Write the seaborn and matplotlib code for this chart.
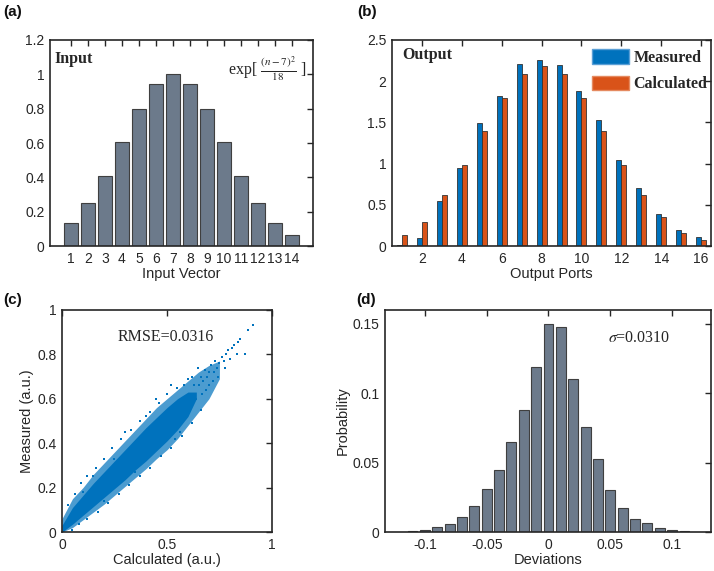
import numpy as np
import pandas as pd
import matplotlib
matplotlib.use("Agg")
import matplotlib.pyplot as plt
import seaborn as sns
from matplotlib.ticker import FuncFormatter
from matplotlib.patches import Patch

# (a) input vector
input_n = list(range(1, 15))
input_val = [0.135, 0.249, 0.411, 0.607, 0.801, 0.946, 1.0, 0.946, 0.801, 0.607, 0.411, 0.249, 0.135, 0.066]

# (b) output ports
ports = list(range(1, 17))
measured = [0.016, 0.097, 0.551, 0.948, 1.487, 1.823, 2.204, 2.253, 2.192, 1.880, 1.527, 1.050, 0.700, 0.393, 0.200, 0.113]
calculated = [0.138, 0.296, 0.624, 0.980, 1.394, 1.795, 2.087, 2.190, 2.087, 1.795, 1.394, 0.980, 0.624, 0.357, 0.158, 0.069]

# (c) scatter cloud, read as envelopes plus the sparse points round its edges
band_x = [0.0, 0.05, 0.1, 0.15, 0.2, 0.25, 0.3, 0.35, 0.4, 0.45, 0.5, 0.55, 0.6, 0.65, 0.7, 0.75]
outer_lo = [0.0, 0.02, 0.055, 0.09, 0.125, 0.165, 0.205, 0.245, 0.285, 0.33, 0.37, 0.42, 0.48, 0.54, 0.60, 0.69]
outer_hi = [0.06, 0.15, 0.20, 0.26, 0.31, 0.36, 0.41, 0.46, 0.51, 0.56, 0.60, 0.64, 0.68, 0.72, 0.75, 0.77]
core_x = [0.0, 0.05, 0.1, 0.15, 0.2, 0.25, 0.3, 0.35, 0.4, 0.45, 0.5, 0.55, 0.6, 0.64]
core_lo = [0.0, 0.035, 0.075, 0.115, 0.155, 0.195, 0.235, 0.28, 0.32, 0.365, 0.41, 0.46, 0.52, 0.60]
core_hi = [0.03, 0.11, 0.165, 0.22, 0.27, 0.32, 0.37, 0.42, 0.47, 0.515, 0.56, 0.60, 0.63, 0.63]
tail_calc = [0.91, 0.887, 0.871, 0.848, 0.84, 0.832, 0.82, 0.81, 0.80, 0.79, 0.78, 0.775, 0.77, 0.76,
             0.75, 0.745, 0.74, 0.73, 0.725, 0.72, 0.71, 0.70, 0.70, 0.69, 0.685, 0.68, 0.67, 0.665,
             0.66, 0.655, 0.65, 0.64, 0.63, 0.62, 0.61, 0.60, 0.58, 0.56, 0.54, 0.52, 0.50, 0.45,
             0.40, 0.35, 0.30, 0.25, 0.20, 0.15, 0.10,
             0.03, 0.06, 0.09, 0.12, 0.16, 0.20, 0.24, 0.28, 0.33, 0.37, 0.42, 0.46, 0.50, 0.55,
             0.05, 0.08, 0.12, 0.17, 0.22, 0.27, 0.32, 0.37, 0.42, 0.47, 0.52, 0.57, 0.62, 0.66]
tail_meas = [0.93, 0.91, 0.80, 0.87, 0.855, 0.80, 0.84, 0.83, 0.78, 0.82, 0.80, 0.74, 0.77, 0.79,
             0.76, 0.70, 0.74, 0.77, 0.72, 0.68, 0.75, 0.66, 0.72, 0.70, 0.64, 0.73, 0.68, 0.62,
             0.70, 0.66, 0.74, 0.60, 0.66, 0.70, 0.57, 0.69, 0.66, 0.45, 0.42, 0.66, 0.42, 0.60,
             0.52, 0.27, 0.45, 0.33, 0.14, 0.25, 0.18,
             0.12, 0.17, 0.22, 0.25, 0.29, 0.33, 0.38, 0.42, 0.46, 0.50, 0.54, 0.58, 0.62, 0.65,
             0.01, 0.035, 0.06, 0.09, 0.13, 0.17, 0.21, 0.25, 0.29, 0.34, 0.38, 0.43, 0.49, 0.55]

# (d) deviation histogram
dev_centers = [-0.11, -0.10, -0.09, -0.08, -0.07, -0.06, -0.05, -0.04, -0.03, -0.02, -0.01, 0.0,
               0.01, 0.02, 0.03, 0.04, 0.05, 0.06, 0.07, 0.08, 0.09, 0.10, 0.11]
dev_prob = [0.0005, 0.0015, 0.0036, 0.006, 0.011, 0.019, 0.031, 0.045, 0.065, 0.088, 0.119, 0.150,
            0.148, 0.110, 0.0757, 0.0527, 0.030, 0.0172, 0.0097, 0.0063, 0.0027, 0.0012, 0.0005]

blue = "#0072BD"
orange = "#D95319"
slate = "#6C7A8B"
dark = "#262626"

sns.set_style("white")
plt.rcParams["font.family"] = ["Liberation Sans", "DejaVu Sans"]
plt.rcParams["mathtext.fontset"] = "stix"
serif = ["Liberation Serif", "DejaVu Serif"]

fmt = FuncFormatter(lambda v, p: f"{v:g}")


def style_axis(ax):
    ax.tick_params(direction="in", top=True, right=True, length=4, width=1,
                   colors=dark, labelsize=10, pad=4)
    for s in ax.spines.values():
        s.set_color(dark)
        s.set_linewidth(1.2)
    ax.xaxis.set_major_formatter(fmt)
    ax.yaxis.set_major_formatter(fmt)


fig = plt.figure(figsize=(7.14, 5.71), dpi=100)

# ---- (a)
ax = fig.add_axes([0.070, 0.569, 0.368, 0.361])
sns.barplot(x=input_n, y=input_val, native_scale=True, width=0.8, color=slate, saturation=1,
            edgecolor="#3f3f3f", linewidth=0.8, errorbar=None, ax=ax)
ax.set_xlim(-0.23, 15.23)
ax.set_ylim(0, 1.2)
ax.set_xticks(input_n)
ax.set_yticks([0, 0.2, 0.4, 0.6, 0.8, 1.0, 1.2])
style_axis(ax)
ax.set_xlabel("Input Vector", fontsize=10.5, color=dark, labelpad=1)
ax.set_ylabel("")
ax.text(0.06, 1.09, "Input", family=serif, fontweight="bold", fontsize=11.5, va="center", ha="left")
ax.text(14.9, 1.03, r"exp[ $\frac{(n-7)^2}{18}$ ]", family=serif, fontsize=11.5, va="center", ha="right")

# ---- (b)
ax = fig.add_axes([0.549, 0.569, 0.447, 0.361])
df_b = pd.DataFrame({
    "port": ports * 2,
    "value": measured + calculated,
    "kind": ["Measured"] * len(ports) + ["Calculated"] * len(ports),
})
sns.barplot(data=df_b, x="port", y="value", hue="kind", native_scale=True, width=0.5,
            palette={"Measured": blue, "Calculated": orange}, saturation=1,
            edgecolor="#333333", linewidth=0.6, errorbar=None, legend=False, ax=ax)
ax.set_xlim(0.5, 16.5)
ax.set_ylim(0, 2.5)
ax.set_xticks([2, 4, 6, 8, 10, 12, 14, 16])
ax.set_yticks([0, 0.5, 1.0, 1.5, 2.0, 2.5])
style_axis(ax)
ax.set_xlabel("Output Ports", fontsize=10.5, color=dark, labelpad=1)
ax.set_ylabel("")
ax.text(1.0, 2.32, "Output", family=serif, fontweight="bold", fontsize=11.5, va="center", ha="left")
handles = [Patch(facecolor=blue, edgecolor="#5a9fd6"), Patch(facecolor=orange, edgecolor="#e58a60")]
leg = ax.legend(handles, ["Measured", "Calculated"], loc="upper left", bbox_to_anchor=(0.627, 0.955),
                frameon=False, borderaxespad=0, borderpad=0, handlelength=2.3, handleheight=1.0,
                handletextpad=0.3, labelspacing=0.62,
                prop={"family": serif, "weight": "bold", "size": 11.5})

# ---- (c)
ax = fig.add_axes([0.0868, 0.0683, 0.294, 0.389])
ax.fill_between(band_x, outer_lo, outer_hi, color=blue, alpha=0.7, linewidth=0)
ax.fill_between(core_x, core_lo, core_hi, color=blue, linewidth=0)
sns.scatterplot(x=tail_calc, y=tail_meas, color=blue, s=3, marker="s", linewidth=0, ax=ax)
ax.set_xlim(0, 1)
ax.set_ylim(0, 1)
ax.set_xticks([0, 0.5, 1])
ax.set_yticks([0, 0.2, 0.4, 0.6, 0.8, 1])
style_axis(ax)
ax.set_xlabel("Calculated (a.u.)", fontsize=10.5, color=dark, labelpad=1)
ax.set_ylabel("Measured (a.u.)", fontsize=10.5, color=dark, labelpad=2)
ax.text(0.495, 0.878, "RMSE=0.0316", family=serif, fontsize=11.5, va="center", ha="center")

# ---- (d)
ax = fig.add_axes([0.539, 0.0683, 0.457, 0.389])
sns.barplot(x=dev_centers, y=dev_prob, native_scale=True, width=0.8, color=slate, saturation=1,
            edgecolor="#3f3f3f", linewidth=0.8, errorbar=None, ax=ax)
ax.set_xlim(-0.1324, 0.1316)
ax.set_ylim(0, 0.16)
ax.set_xticks([-0.1, -0.05, 0, 0.05, 0.1])
ax.set_yticks([0, 0.05, 0.1, 0.15])
style_axis(ax)
ax.set_xlabel("Deviations", fontsize=10.5, color=dark, labelpad=1)
ax.set_ylabel("Probability", fontsize=10.5, color=dark, labelpad=2)
ax.text(0.073, 0.14, r"$\sigma$=0.0310", family=serif, fontsize=11.5, va="center", ha="center")

# panel letters
for lab, x, y in [("(a)", 0.004, 0.979), ("(b)", 0.501, 0.979), ("(c)", 0.004, 0.475), ("(d)", 0.499, 0.474)]:
    fig.text(x, y, lab, fontsize=11, fontweight="bold", va="center", ha="left", color="#111111")

fig.savefig("out.png", dpi=100)
